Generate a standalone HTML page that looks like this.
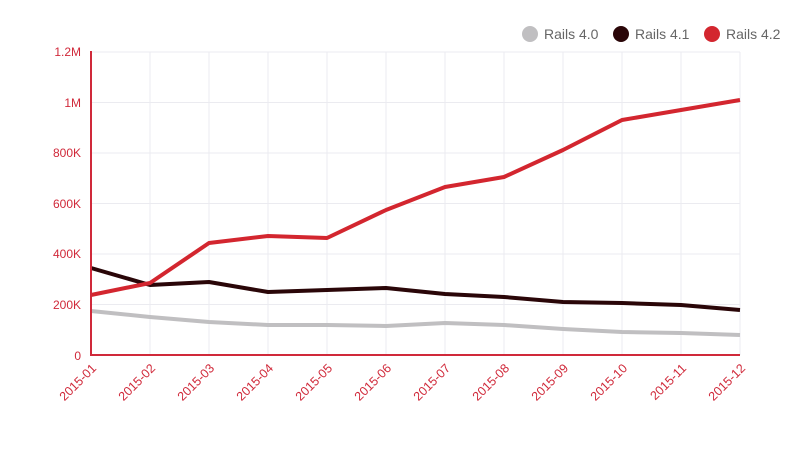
<!DOCTYPE html>
<html><head><style>body{margin:0;background:#fff}svg{display:block}text{font-family:"Liberation Sans",sans-serif}</style></head>
<body>
<svg width="800" height="450" xmlns="http://www.w3.org/2000/svg">
<g stroke="#ebebf0" stroke-width="1">
<line x1="91" y1="52" x2="740" y2="52"/><line x1="91" y1="102.5" x2="740" y2="102.5"/><line x1="91" y1="153" x2="740" y2="153"/><line x1="91" y1="203.5" x2="740" y2="203.5"/><line x1="91" y1="254" x2="740" y2="254"/><line x1="91" y1="304.5" x2="740" y2="304.5"/>
<line x1="150" y1="52" x2="150" y2="355"/><line x1="209" y1="52" x2="209" y2="355"/><line x1="268" y1="52" x2="268" y2="355"/><line x1="327" y1="52" x2="327" y2="355"/><line x1="386" y1="52" x2="386" y2="355"/><line x1="445" y1="52" x2="445" y2="355"/><line x1="504" y1="52" x2="504" y2="355"/><line x1="563" y1="52" x2="563" y2="355"/><line x1="622" y1="52" x2="622" y2="355"/><line x1="681" y1="52" x2="681" y2="355"/><line x1="740" y1="52" x2="740" y2="355"/>
</g>
<g fill="#d0293a" font-size="12" text-anchor="end">
<text x="81" y="56">1.2M</text><text x="81" y="107">1M</text><text x="81" y="157">800K</text><text x="81" y="208">600K</text><text x="81" y="258">400K</text><text x="81" y="309">200K</text><text x="81" y="360">0</text>
</g>
<g fill="#d0293a" font-size="12.5" text-anchor="end">
<text transform="translate(97,369) rotate(-45)">2015-01</text>
<text transform="translate(156,369) rotate(-45)">2015-02</text>
<text transform="translate(215,369) rotate(-45)">2015-03</text>
<text transform="translate(274,369) rotate(-45)">2015-04</text>
<text transform="translate(333,369) rotate(-45)">2015-05</text>
<text transform="translate(392,369) rotate(-45)">2015-06</text>
<text transform="translate(451,369) rotate(-45)">2015-07</text>
<text transform="translate(510,369) rotate(-45)">2015-08</text>
<text transform="translate(569,369) rotate(-45)">2015-09</text>
<text transform="translate(628,369) rotate(-45)">2015-10</text>
<text transform="translate(687,369) rotate(-45)">2015-11</text>
<text transform="translate(746,369) rotate(-45)">2015-12</text>
</g>
<g fill="none" stroke-width="4" stroke-linejoin="round">
<polyline stroke="#c0bfc1" points="91,311 150,317 209,322 268,325 327,325 386,326 445,323 504,325 563,329 622,332 681,333 740,335"/>
<polyline stroke="#2a0608" points="91,268 150,285 209,282 268,292 327,290 386,288 445,294 504,297 563,302 622,303 681,305 740,310"/>
<polyline stroke="#d3262f" points="91,295 150,283 209,243 268,236 327,238 386,210 445,187 504,177 563,150 622,120 681,110 740,100"/>
</g>
<line x1="91" y1="51" x2="91" y2="356" stroke="#d0293a" stroke-width="2"/>
<line x1="90" y1="355" x2="740" y2="355" stroke="#d0293a" stroke-width="2"/>
<g font-size="14" fill="#666">
<circle cx="530" cy="34" r="8" fill="#c0bfc1"/><text x="544" y="39">Rails 4.0</text>
<circle cx="621" cy="34" r="8" fill="#2a0608"/><text x="635" y="39">Rails 4.1</text>
<circle cx="712" cy="34" r="8" fill="#d3262f"/><text x="726" y="39">Rails 4.2</text>
</g>
</svg>
</body></html>
